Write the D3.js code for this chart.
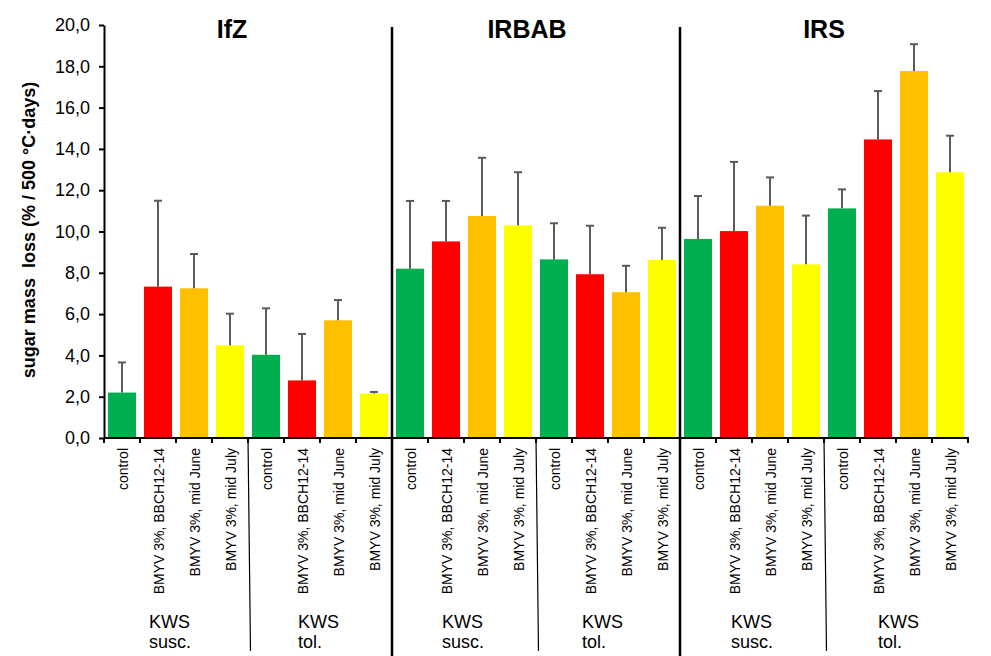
<!DOCTYPE html>
<html><head><meta charset="utf-8">
<script src="https://cdn.jsdelivr.net/npm/d3@7"></script>
<style>body{margin:0;background:#fff}text{font-family:Arial,"Liberation Sans",sans-serif}</style>
</head><body><svg id="c" width="991" height="656"></svg>
<script>
const institutes = ["IfZ", "IRBAB", "IRS"];
const varieties = [["KWS", "susc."], ["KWS", "tol."]];
const treatments = ["control", "BMYV 3%, BBCH12-14", "BMYV 3%, mid June", "BMYV 3%, mid July"];
const colors = ["#00B050", "#FF0000", "#FFC000", "#FFFF00"];
// means per institute: [susc x4, tol x4]
const meansIfZ   = [2.20, 7.33, 7.25, 4.49, 4.03, 2.79, 5.70, 2.15];
const meansIRBAB = [8.20, 9.52, 10.75, 10.30, 8.65, 7.93, 7.06, 8.62];
const meansIRS   = [9.64, 10.02, 11.25, 8.41, 11.12, 14.46, 17.77, 12.87];
const sdIfZ   = [1.46, 4.16, 1.66, 1.53, 2.25, 2.25, 0.98, 0.08];
const sdIRBAB = [3.28, 1.96, 2.82, 2.57, 1.75, 2.35, 1.28, 1.56];
const sdIRS   = [2.08, 3.35, 1.37, 2.36, 0.92, 2.34, 1.30, 1.77];
const yTicks = [0, 2, 4, 6, 8, 10, 12, 14, 16, 18, 20];
const yTitle = "sugar mass  loss (% / 500 °C·days)";

const allMeans = [meansIfZ, meansIRBAB, meansIRS];
const allSd = [sdIfZ, sdIRBAB, sdIRS];
const data = [];
institutes.forEach((inst, i) => {
  for (let k = 0; k < 8; k++) {
    data.push({idx: i * 8 + k, inst, variety: Math.floor(k / 4), treat: k % 4,
      mean: allMeans[i][k], sd: allSd[i][k]});
  }
});

const svg = d3.select("#c");
const x = d3.scaleBand().domain(d3.range(24)).range([104, 968]).paddingInner(0.22).paddingOuter(0.11);
const y = d3.scaleLinear().domain([0, 20]).range([438, 25]);
const step = x.step();
const slotLeft = i => x(i) - step * x.paddingInner() / 2;

// bars
svg.append("g").selectAll("rect").data(data).join("rect")
  .attr("x", d => x(d.idx)).attr("width", x.bandwidth())
  .attr("y", d => y(d.mean)).attr("height", d => y(0) - y(d.mean))
  .attr("fill", d => colors[d.treat]);

// error bars (upper only)
const eg = svg.append("g").attr("stroke", "#5a5a5a").attr("stroke-width", 2);
eg.selectAll("line.v").data(data).join("line").attr("class", "v")
  .attr("x1", d => x(d.idx) + x.bandwidth() / 2).attr("x2", d => x(d.idx) + x.bandwidth() / 2)
  .attr("y1", d => y(d.mean)).attr("y2", d => y(d.mean + d.sd));
eg.selectAll("line.c").data(data).join("line").attr("class", "c")
  .attr("x1", d => x(d.idx) + x.bandwidth() / 2 - 4).attr("x2", d => x(d.idx) + x.bandwidth() / 2 + 4)
  .attr("y1", d => y(d.mean + d.sd)).attr("y2", d => y(d.mean + d.sd));

// y axis
const yAxis = d3.axisLeft(y).tickValues(yTicks).tickSize(5).tickSizeOuter(0)
  .tickFormat(v => v.toFixed(1).replace(".", ","));
const yg = svg.append("g").attr("transform", "translate(104,0)").call(yAxis);
yg.select(".domain").attr("stroke", "#000").attr("stroke-width", 2);
yg.selectAll(".tick line").attr("stroke", "#000").attr("stroke-width", 2);
yg.selectAll(".tick text").attr("font-size", 18).attr("font-family", "Arial, 'Liberation Sans'").attr("x", -14).attr("fill", "#000");

// x axis line and ticks
svg.append("line").attr("x1", 104).attr("x2", 969).attr("y1", 438).attr("y2", 438)
  .attr("stroke", "#000").attr("stroke-width", 2);
svg.append("g").selectAll("line").data(d3.range(25)).join("line")
  .attr("x1", i => i < 24 ? slotLeft(i) : slotLeft(23) + step)
  .attr("x2", i => i < 24 ? slotLeft(i) : slotLeft(23) + step)
  .attr("y1", 438).attr("y2", 443).attr("stroke", "#000").attr("stroke-width", 2);

// category labels
svg.append("g").selectAll("text").data(data).join("text")
  .attr("transform", d => `translate(${x(d.idx) + x.bandwidth() / 2 + 1},448) rotate(-90)`)
  .attr("text-anchor", "end").attr("dy", "0.35em").attr("font-size", 14).attr("fill", "#000")
  .text(d => treatments[d.treat]);

// group labels
const groupOffset = [-27, -22, -22, -26, -21, -18];
const groups = d3.range(6);
const gl = svg.append("g").selectAll("text").data(groups).join("text")
  .attr("x", g => slotLeft(g * 4) + step * 2 + groupOffset[g]).attr("font-size", 18).attr("fill", "#000");
gl.append("tspan").attr("y", 628).text(g => varieties[g % 2][0]);
gl.append("tspan").attr("x", g => slotLeft(g * 4) + step * 2 + groupOffset[g]).attr("y", 648).text(g => varieties[g % 2][1]);

// thin separators between varieties
[0, 1, 2, 3, 4].forEach(g => {
  if (g % 2 === 1) return;
  const xx = slotLeft(g * 4 + 4);
  svg.append("line").attr("x1", xx).attr("x2", xx + 2.5).attr("y1", 438).attr("y2", 651)
    .attr("stroke", "#000").attr("stroke-width", 1.2);
});
// thick separators between institutes
[1, 2].forEach(i => {
  const xx = slotLeft(i * 8);
  svg.append("line").attr("x1", xx).attr("x2", xx).attr("y1", 27).attr("y2", 656)
    .attr("stroke", "#000").attr("stroke-width", 2.5);
});

// institute titles
const titleOffset = [-16, -9, 0];
svg.append("g").selectAll("text").data(institutes).join("text")
  .attr("x", (d, i) => slotLeft(i * 8) + step * 4 + titleOffset[i])
  .attr("y", 38).attr("text-anchor", "middle").attr("font-size", 25).attr("font-weight", "bold")
  .attr("fill", "#000").text(d => d);

// y title
svg.append("text").attr("transform", "translate(35,230) rotate(-90)")
  .attr("text-anchor", "middle").attr("font-size", 18).attr("font-weight", "bold")
  .attr("xml:space", "preserve").style("white-space", "pre").attr("fill", "#000").text(yTitle);
</script></body></html>
